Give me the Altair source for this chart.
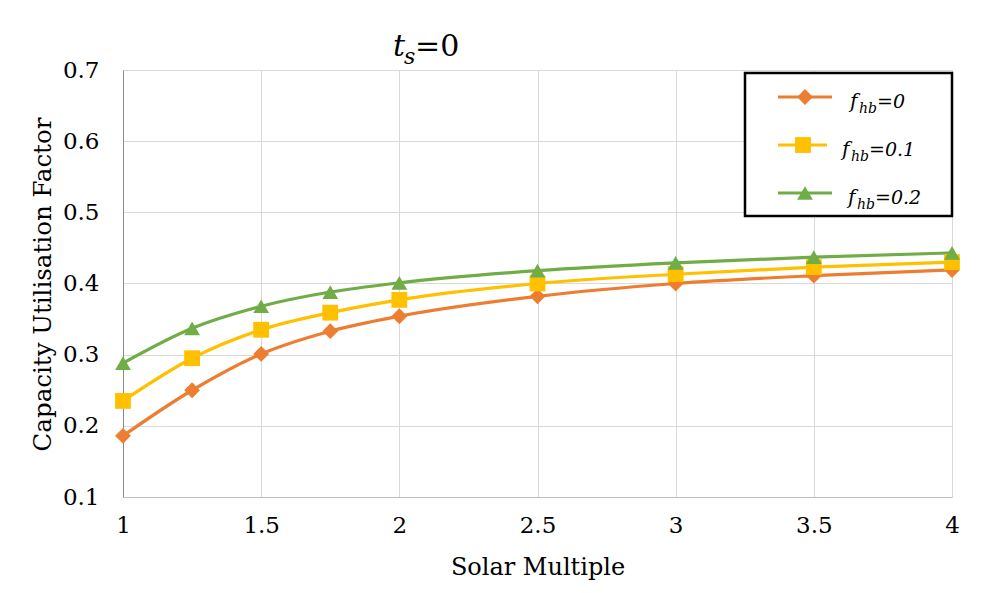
import altair as alt
import pandas as pd

# ---- data ----
solar_multiple = [1, 1.25, 1.5, 1.75, 2, 2.5, 3, 3.5, 4]
cuf_fhb_0 = [0.186, 0.250, 0.301, 0.333, 0.354, 0.382, 0.400, 0.411, 0.419]
cuf_fhb_01 = [0.235, 0.295, 0.335, 0.359, 0.377, 0.400, 0.413, 0.423, 0.430]
cuf_fhb_02 = [0.288, 0.337, 0.368, 0.388, 0.401, 0.418, 0.429, 0.437, 0.443]
series_names = ["fhb=0", "fhb=0.1", "fhb=0.2"]
series_suffix = ["=0", "=0.1", "=0.2"]
x_ticks = [1, 1.5, 2, 2.5, 3, 3.5, 4]
y_ticks = [0.1, 0.2, 0.3, 0.4, 0.5, 0.6, 0.7]

colors = ["#ED7D31", "#FFC000", "#70AD47"]
shapes = ["diamond", "square", "triangle-up"]
FONT = "DejaVu Serif"

rows = []
for name, vals in zip(series_names, [cuf_fhb_0, cuf_fhb_01, cuf_fhb_02]):
    for xv, yv in zip(solar_multiple, vals):
        rows.append({"sm": xv, "cuf": yv, "series": name})
df = pd.DataFrame(rows)

W, H = 829, 427

x_enc = alt.X("sm:Q", scale=alt.Scale(domain=[1, 4], nice=False, zero=False),
              axis=alt.Axis(values=x_ticks, labelExpr="'' + datum.value", title="Solar Multiple",
                            ticks=False, labelPadding=17, labelFontSize=23, labelFont=FONT,
                            titleFont=FONT, titleFontSize=24, titleFontWeight="normal",
                            titleY=77, titleBaseline="alphabetic", titleColor="#000",
                            labelColor="#000", domainColor="#bfbfbf", gridColor="#d9d9d9",
                            labelFlush=False))
y_enc = alt.Y("cuf:Q", scale=alt.Scale(domain=[0.1, 0.7], nice=False, zero=False),
              axis=alt.Axis(values=y_ticks, format=".1f", title="Capacity Utilisation Factor",
                            ticks=False, labelPadding=24, labelFontSize=23, labelFont=FONT,
                            titleFont=FONT, titleFontSize=24.5, titleFontWeight="normal",
                            titleX=-73, titleY=214, titleAngle=-90, titleBaseline="alphabetic",
                            titleAlign="center", titleColor="#000", labelColor="#000",
                            domainColor="#8c8c8c", gridColor="#d9d9d9"))
color_enc = alt.Color("series:N", scale=alt.Scale(domain=series_names, range=colors), legend=None)
shape_enc = alt.Shape("series:N", scale=alt.Scale(domain=series_names, range=shapes), legend=None)

MSIZE = 250
base = alt.Chart(df)
lines = base.mark_line(interpolate="monotone", strokeWidth=3.2).encode(
    x=x_enc, y=y_enc, color=color_enc, detail="series:N")
points = base.mark_point(filled=True, size=MSIZE, opacity=1).encode(
    x=x_enc, y=y_enc, color=color_enc, shape=shape_enc)

one = pd.DataFrame({"k": [0]})
layers = [lines, points]

# custom legend box
layers.append(alt.Chart(one).mark_rect(fill="white", stroke="black", strokeWidth=2.5).encode(
    x=alt.value(622), x2=alt.value(829), y=alt.value(3), y2=alt.value(146)))
legend_rows_y = [27, 75, 123]
legend_text_x = [727, 719, 725]
legend_line_x = [(655, 709), (655, 704), (655, 709)]
legend_mark_x = [682, 680, 682]
for i in range(3):
    yy = legend_rows_y[i]
    layers.append(alt.Chart(one).mark_rule(strokeWidth=3.2, color=colors[i]).encode(
        x=alt.value(legend_line_x[i][0]), x2=alt.value(legend_line_x[i][1]), y=alt.value(yy)))
    layers.append(alt.Chart(one).mark_point(filled=True, size=MSIZE, opacity=1, color=colors[i],
                                             shape=shapes[i]).encode(
        x=alt.value(legend_mark_x[i]), y=alt.value(yy)))
    tx = legend_text_x[i]
    base_y = yy + 11
    layers.append(alt.Chart(one).mark_text(text="f", align="left", baseline="alphabetic", font=FONT,
                                            fontStyle="italic", fontSize=20, color="black").encode(
        x=alt.value(tx), y=alt.value(base_y)))
    layers.append(alt.Chart(one).mark_text(text="hb", align="left", baseline="alphabetic", font=FONT,
                                            fontStyle="italic", fontSize=14, color="black").encode(
        x=alt.value(tx + 9), y=alt.value(base_y + 5)))
    layers.append(alt.Chart(one).mark_text(text=series_suffix[i], align="left", baseline="alphabetic",
                                            font=FONT, fontStyle="italic", fontSize=19,
                                            color="black").encode(
        x=alt.value(tx + 27), y=alt.value(base_y)))

# title t_s=0
layers.append(alt.Chart(one).mark_text(text="t", align="left", baseline="alphabetic", font=FONT,
                                        fontStyle="italic", fontSize=30, color="black").encode(
    x=alt.value(270), y=alt.value(-14)))
layers.append(alt.Chart(one).mark_text(text="s", align="left", baseline="alphabetic", font=FONT,
                                        fontStyle="italic", fontSize=22, color="black").encode(
    x=alt.value(281), y=alt.value(-6)))
layers.append(alt.Chart(one).mark_text(text="=0", align="left", baseline="alphabetic", font=FONT,
                                        fontSize=30, color="black").encode(
    x=alt.value(292), y=alt.value(-14)))

chart = alt.layer(*layers).properties(
    width=W, height=H,
    autosize=alt.AutoSizeParams(type="none"),
    padding={"left": 115, "top": 62, "right": 20, "bottom": 92},
    background="white",
).configure_view(stroke=None)

chart.save("out.html", embed_options={"renderer": "svg", "actions": False})
